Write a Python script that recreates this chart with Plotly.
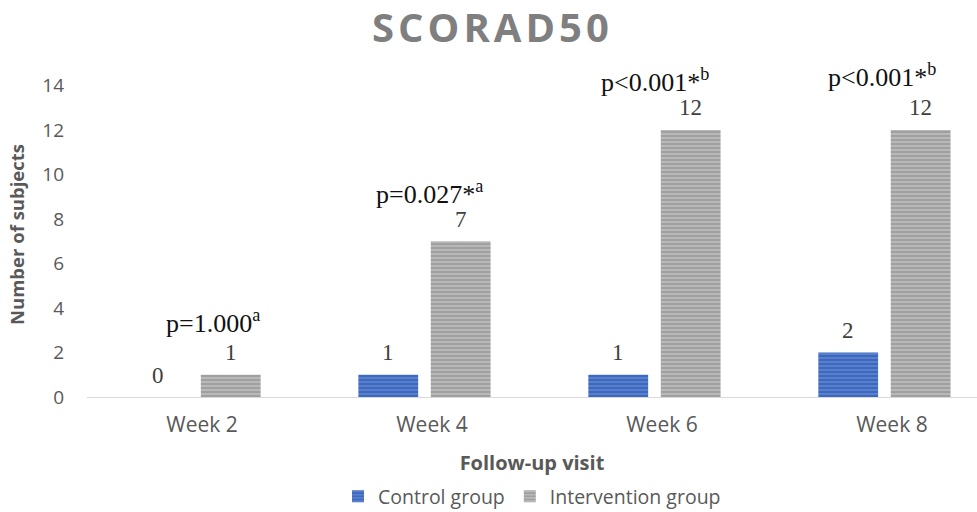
import plotly.graph_objects as go

weeks = ["Week 2", "Week 4", "Week 6", "Week 8"]
control = [0, 1, 1, 2]
intervention = [1, 7, 12, 12]
p_labels = ["p=1.000<sup>a</sup>", "p=0.027*<sup>a</sup>", "p<0.001*<sup>b</sup>", "p<0.001*<sup>b</sup>"]
p_heights = [3.37, 9.2, 14.2, 14.45]
p_shift = [11, -2, -7, -10]

serif = "Liberation Serif"
sans = "Open Sans"
grey = "#7f7f7f"
tick_grey = "#595959"

W_BAR = 0.26
OFF_C = -0.32
OFF_I = -0.005
PX_PER_CAT = 230

fig = go.Figure()
fig.add_trace(go.Bar(
    x=weeks, y=control, name="Control group",
    width=W_BAR, offset=OFF_C,
    marker=dict(color="#4472C4", line=dict(width=0),
                pattern=dict(shape="-", fgcolor="#9db5e3", bgcolor="#3c68c0", size=4, solidity=0.3)),
))
fig.add_trace(go.Bar(
    x=weeks, y=intervention, name="Intervention group",
    width=W_BAR, offset=OFF_I,
    marker=dict(color="#A5A5A5", line=dict(width=0),
                pattern=dict(shape="-", fgcolor="#e6e6e6", bgcolor="#a0a0a0", size=4, solidity=0.35)),
))

# value labels above bars
for series, off in ((control, OFF_C), (intervention, OFF_I)):
    for wk, v in zip(weeks, series):
        fig.add_annotation(x=wk, y=v, xref="x", yref="y", text=str(v), showarrow=False,
                           xshift=(off + W_BAR / 2) * PX_PER_CAT, yshift=22, yanchor="middle",
                           font=dict(family=serif, size=23, color="#404040"))

# p-value annotations
for wk, lab, h, s in zip(weeks, p_labels, p_heights, p_shift):
    fig.add_annotation(x=wk, y=h, xref="x", yref="y", text=lab, showarrow=False,
                       xshift=s, yanchor="middle",
                       font=dict(family=serif, size=26, color="#111111"))

fig.update_layout(
    width=977, height=512,
    margin=dict(l=87, r=0, t=72, b=115),
    paper_bgcolor="white", plot_bgcolor="white",
    title=dict(text="\u200aS\u200aC\u200aO\u200aR\u200aA\u200aD\u200a5\u200a0", x=0.502, xanchor="center", y=0.945, yanchor="middle",
               font=dict(family=sans, size=40, color=grey, weight="bold")),
    barmode="group",
    showlegend=True,
    legend=dict(orientation="h", x=0.5, xanchor="center", yref="container", y=0.03, yanchor="middle",
                font=dict(family=sans, size=19.5, color=tick_grey), itemwidth=30),
    xaxis=dict(range=[-0.5, 3.37], showgrid=False, showline=True, linecolor="#d9d9d9", linewidth=1,
               ticks="", tickfont=dict(family=sans, size=21, color=tick_grey), automargin=False,
               ticklabelstandoff=9,
               title=dict(text="Follow-up visit", font=dict(family=sans, size=20, color=tick_grey, weight="bold"), standoff=18)),
    yaxis=dict(range=[0, 14.6], tickvals=[0, 2, 4, 6, 8, 10, 12, 14], showgrid=False, zeroline=False, showline=False,
               automargin=False,
               tickfont=dict(family=sans, size=19, color=tick_grey), ticklabelstandoff=22,
               title=dict(text="Number of subjects", font=dict(family=sans, size=18.5, color=tick_grey, weight="bold"), standoff=12)),
)

fig.write_html("out.html", config={"displayModeBar": False},
               post_script="document.body.style.margin='0';document.body.style.overflow='hidden';")
